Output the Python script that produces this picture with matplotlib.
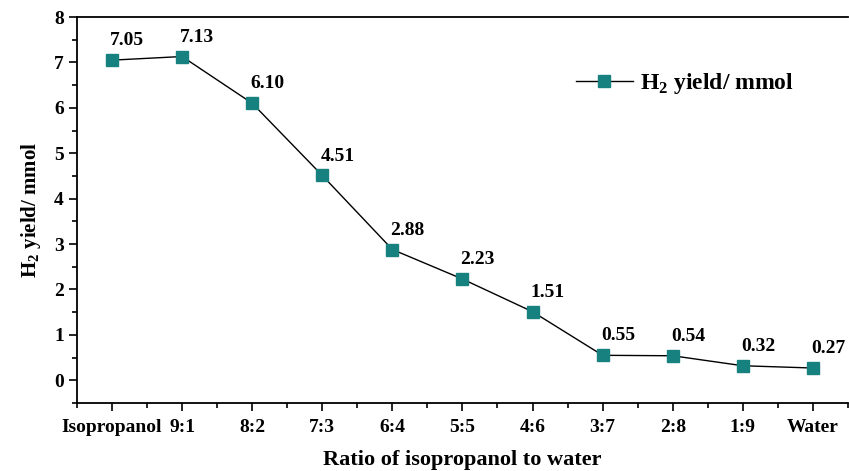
import matplotlib.pyplot as plt
import matplotlib as mpl
from matplotlib.ticker import MultipleLocator

mpl.rcParams['font.family'] = 'serif'
mpl.rcParams['font.serif'] = ['Liberation Serif', 'DejaVu Serif']
mpl.rcParams['font.weight'] = 'bold'
mpl.rcParams['mathtext.fontset'] = 'custom'
mpl.rcParams['mathtext.rm'] = 'Liberation Serif:bold'
mpl.rcParams['mathtext.bf'] = 'Liberation Serif:bold'

ratios = ['Isopropanol', '9:1', '8:2', '7:3', '6:4', '5:5', '4:6', '3:7', '2:8', '1:9', 'Water']
h2_yield = [7.05, 7.13, 6.10, 4.51, 2.88, 2.23, 1.51, 0.55, 0.54, 0.32, 0.27]
value_labels = ['7.05', '7.13', '6.10', '4.51', '2.88', '2.23', '1.51', '0.55', '0.54', '0.32', '0.27']

fig = plt.figure(figsize=(8.49, 4.71), dpi=100)
ax = fig.add_axes([0.0907, 0.1444, 0.908, 0.8195])

x = list(range(len(ratios)))
ax.plot(x, h2_yield, '-s', color='black', lw=1.0, markersize=8,
        markerfacecolor='#16817f', markeredgecolor='#16817f',
        label='H$_2$ yield/ mmol')

for xi, yi, s in zip(x, h2_yield, value_labels):
    ax.annotate(s, (xi, yi), xytext=(11, 14), textcoords='offset points',
                ha='center', va='center', fontsize=14, fontweight='bold')

ax.set_xlim(-0.5, 10.5)
ax.set_ylim(-0.5, 8)
ax.set_xticks(x)
ax.set_xticklabels(ratios)
ax.xaxis.set_minor_locator(MultipleLocator(0.5))
ax.yaxis.set_major_locator(MultipleLocator(1))
ax.yaxis.set_minor_locator(MultipleLocator(0.5))
ax.tick_params(which='major', length=6, width=1.2, labelsize=14, direction='out')
ax.tick_params(axis='x', which='major', pad=5.5)
ax.tick_params(which='minor', length=3.5, width=1.2, direction='out')
for sp in ax.spines.values():
    sp.set_linewidth(1.3)
ax.spines['right'].set_visible(False)

ax.set_xlabel('Ratio of isopropanol to water', fontsize=16, fontweight='bold', labelpad=10)
ax.set_ylabel('H$_2$ yield/ mmol', fontsize=15, fontweight='bold', labelpad=8)

ax.legend(loc='upper right', bbox_to_anchor=(0.957, 0.915), frameon=False,
          fontsize=17, handlelength=2.4, handletextpad=0.3)

plt.savefig('out.png', dpi=100)
plt.close()
